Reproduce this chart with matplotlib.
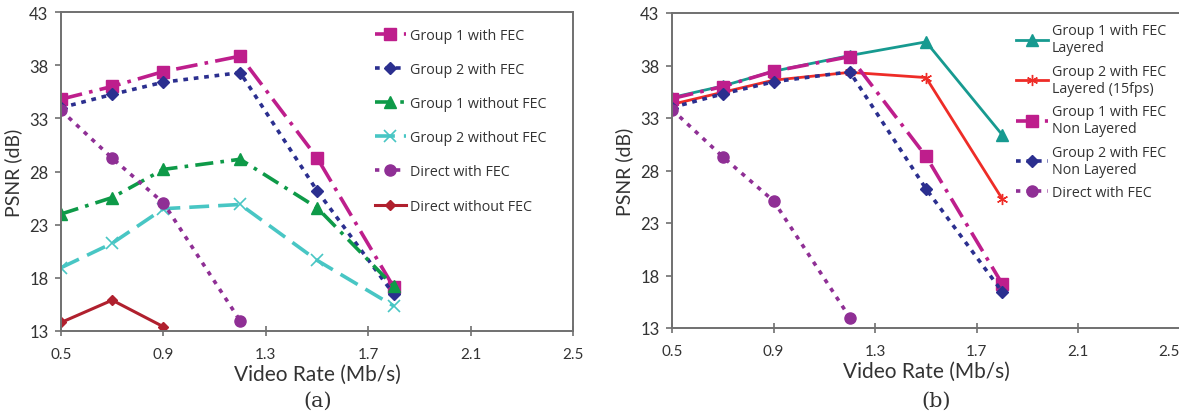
import matplotlib
matplotlib.use("Agg")
import matplotlib.pyplot as plt
import numpy as np
from matplotlib.legend_handler import HandlerLine2D

# ---------------- data ----------------
rates = [0.5, 0.7, 0.9, 1.2, 1.5, 1.8]
rates_direct_fec = [0.5, 0.7, 0.9, 1.2]
rates_direct_nofec = [0.5, 0.7, 0.9]

g1_fec = [34.8, 36.0, 37.4, 38.85, 29.3, 17.1]
g2_fec = [34.0, 35.25, 36.4, 37.3, 26.2, 16.45]
g1_nofec = [24.0, 25.55, 28.2, 29.15, 24.6, 17.2]
g2_nofec = [18.95, 21.25, 24.5, 24.9, 19.65, 15.35]
direct_fec = [33.75, 29.25, 25.05, 13.95]
direct_nofec = [13.8, 15.9, 13.4]

g1_layered = [34.95, 36.05, 37.45, 38.95, 40.25, 31.4]
g2_layered15 = [34.3, 35.45, 36.6, 37.35, 36.85, 25.3]
g1_nonlayered = [34.85, 36.0, 37.45, 38.85, 29.35, 17.2]
g2_nonlayered = [34.0, 35.3, 36.45, 37.4, 26.25, 16.45]
direct_fec_b = [33.8, 29.3, 25.1, 14.0]

xticks = [0.5, 0.9, 1.3, 1.7, 2.1, 2.5]
yticks = [13, 18, 23, 28, 33, 38, 43]

labels_a = ["Group 1 with FEC", "Group 2 with FEC", "Group 1 without FEC",
            "Group 2 without FEC", "Direct with FEC", "Direct without FEC"]
labels_b = ["Group 1 with FEC\nLayered", "Group 2 with FEC\nLayered (15fps)",
            "Group 1 with FEC\nNon Layered", "Group 2 with FEC\nNon Layered",
            "Direct with FEC"]

# ---------------- styles ----------------
MAG = "#BE1E8C"
NAVY = "#2B2F8F"
GREEN = "#0E9A48"
CYAN = "#48C6C4"
PURP = "#8F2F95"
DRED = "#B0202E"
TEAL = "#179A90"
RED = "#EE2C27"

TXT = "#333333"
SPINE = "#707070"

plt.rcParams['font.family'] = ['Lato', 'DejaVu Sans']


class HandlerMarkerAt(HandlerLine2D):
    """Legend handle with the marker placed at a given fraction of the handle."""
    def __init__(self, frac=0.5, **kw):
        super().__init__(**kw)
        self.frac = frac

    def get_xdata(self, legend, xdescent, ydescent, width, height, fontsize):
        xdata = np.array([-xdescent, -xdescent + width])
        xm = np.array([-xdescent + self.frac * width])
        return xdata, xm


fig = plt.figure(figsize=(11.79, 4.14), dpi=100)
axa = fig.add_axes([61/1179, 1-332/414, (573-61)/1179, (332-13)/414])
axb = fig.add_axes([672/1179, 1-329/414, (1180-672)/1179, (329-14)/414])


def style_axes(ax):
    ax.set_xlim(0.5, 2.5)
    ax.set_ylim(13, 43)
    ax.set_xticks(xticks)
    ax.set_yticks(yticks)
    ax.set_xticklabels([f"{t:.1f}" for t in xticks])
    ax.set_yticklabels([str(t) for t in yticks])
    for s in ax.spines.values():
        s.set_color(SPINE)
        s.set_linewidth(1.4)
    ax.tick_params(axis='x', direction='inout', length=7, width=1.2, color=SPINE,
                   labelsize=11, labelcolor=TXT, pad=8)
    ax.tick_params(axis='y', direction='out', length=4, width=1.2, color=SPINE,
                   labelsize=12, labelcolor=TXT, pad=5)
    ax.set_xlabel("Video Rate (Mb/s)", fontsize=15, color=TXT, labelpad=2)
    ax.set_ylabel("PSNR (dB)", fontsize=14, color=TXT, labelpad=5)


DASHDOT = (0, (6, 2, 1, 2))
DOTS = (0, (1.3, 1.6))
LEG_PROP = {'family': ['Open Sans', 'DejaVu Sans'], 'size': 10.3}

# ---------------- panel (a) ----------------
ha = []
ha += axa.plot(rates, g1_fec, color=MAG, lw=2.6, ls=DASHDOT, marker='s', ms=8)
ha += axa.plot(rates, g2_fec, color=NAVY, lw=2.6, ls=DOTS, marker='D', ms=6)
ha += axa.plot(rates, g1_nofec, color=GREEN, lw=2.6, ls=(0, (5, 2, 1, 2)), marker='^', ms=8)
ha += axa.plot(rates, g2_nofec, color=CYAN, lw=2.6, ls=(0, (5.5, 2.5)), marker='x', ms=8, mew=1.2)
ha += axa.plot(rates_direct_fec, direct_fec, color=PURP, lw=2.6, ls=(0, (1.2, 1.7)), marker='o', ms=8)
ha += axa.plot(rates_direct_nofec, direct_nofec, color=DRED, lw=2.2, ls='-', marker='D', ms=5)
style_axes(axa)
hm_a = {h: HandlerMarkerAt(frac=(0.5 if i == 5 else 0.72)) for i, h in enumerate(ha)}
axa.legend(ha, labels_a, loc='upper left', bbox_to_anchor=(0.593, 0.98), frameon=False,
           prop=LEG_PROP, labelcolor=TXT, handlelength=2.2, handletextpad=0.3,
           labelspacing=1.33, numpoints=1, handler_map=hm_a, borderaxespad=0.3)

# ---------------- panel (b) ----------------
hb = []
hb += axb.plot(rates, g1_layered, color=TEAL, lw=2.0, ls='-', marker='^', ms=8)
hb += axb.plot(rates, g2_layered15, color=RED, lw=2.0, ls='-', marker=(6, 2, 0), ms=8, mew=1.0)
hb += axb.plot(rates, g1_nonlayered, color=MAG, lw=2.6, ls=DASHDOT, marker='s', ms=8)
hb += axb.plot(rates, g2_nonlayered, color=NAVY, lw=2.6, ls=DOTS, marker='D', ms=6)
hb += axb.plot(rates_direct_fec, direct_fec_b, color=PURP, lw=2.6, ls=(0, (1.2, 1.7)), marker='o', ms=8)
style_axes(axb)
axb.spines['right'].set_visible(False)
lab = axb.get_xticklabels()
lab[-1].set_ha('right')
hm_b = {h: HandlerMarkerAt(frac=(0.5 if i < 2 else 0.72)) for i, h in enumerate(hb)}
axb.legend(hb, labels_b, loc='upper left', bbox_to_anchor=(0.658, 1.0), frameon=False,
           prop=LEG_PROP, labelcolor=TXT, handlelength=2.2, handletextpad=0.3,
           labelspacing=0.58, numpoints=1, handler_map=hm_b, borderaxespad=0.3)

# captions
fig.text(318/1179, 1-401/414, "(a)", ha='center', va='center', fontsize=15,
         family='DejaVu Serif', color=TXT)
fig.text(936/1179, 1-401/414, "(b)", ha='center', va='center', fontsize=15,
         family='DejaVu Serif', color=TXT)

fig.savefig("out.png", dpi=100)
